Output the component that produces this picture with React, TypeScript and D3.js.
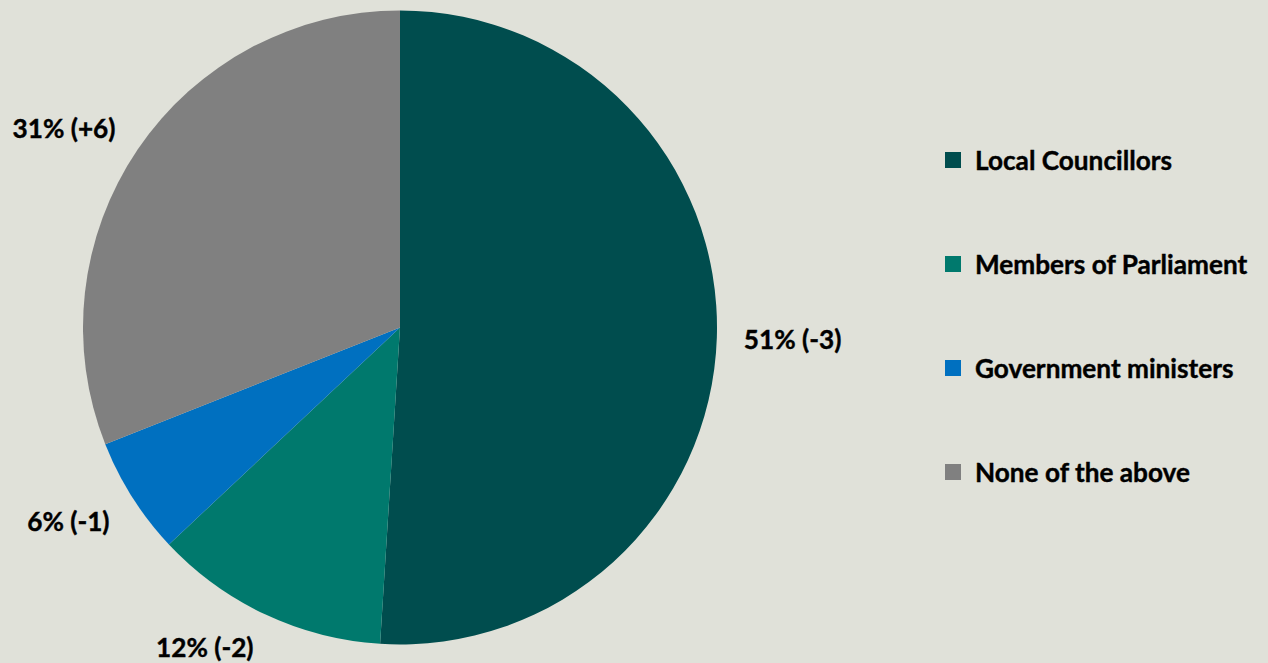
import React, { useEffect, useRef } from "react";
import * as d3 from "d3";

const categories = ["Local Councillors", "Members of Parliament", "Government ministers", "None of the above"];
const values = [51, 12, 6, 31];
const changes = ["-3", "-2", "-1", "+6"];
const colors = ["#004D4E", "#00796D", "#0070C0", "#808080"];

const W = 1268;
const H = 663;
const FONT = "Lato, 'Open Sans', sans-serif";
const FS = 26.2;

export default function App() {
  const ref = useRef<SVGSVGElement | null>(null);

  useEffect(() => {
    const svg = d3.select(ref.current);
    svg.selectAll("*").remove();
    svg.append("rect").attr("width", W).attr("height", H).attr("fill", "#E0E1D9");

    const cx = 400, cy = 327.5, r = 317;
    const g = svg.append("g").attr("transform", `translate(${cx},${cy})`);
    const pie = d3.pie<number>().sort(null).value((d) => d);
    const arcs = pie(values);
    const arc = d3.arc<d3.PieArcDatum<number>>().innerRadius(0).outerRadius(r);

    g.selectAll("path.slice")
      .data(arcs)
      .join("path")
      .attr("class", "slice")
      .attr("d", arc)
      .attr("fill", (_, i) => colors[i]);

    const gap = 27;
    const maxY = H - 16 - cy;
    arcs.forEach((a, i) => {
      const mid = (a.startAngle + a.endAngle) / 2;
      const ux = Math.sin(mid), uy = -Math.cos(mid);
      const t = g.append("text")
        .attr("font-family", FONT)
        .attr("font-weight", 700)
        .attr("font-size", FS)
        .attr("fill", "#000")
        .attr("stroke", "#000")
        .attr("stroke-width", 0.4)
        .attr("text-anchor", "middle")
        .attr("dominant-baseline", "central")
        .text(`${values[i]}% (${changes[i]})`);
      const w = (t.node() as SVGTextElement).getComputedTextLength();
      const h = 18;
      const clamp = (v: number) => Math.max(-1, Math.min(1, v * 3));
      const px = (r + gap) * ux, py = (r + gap) * uy;
      const x = px + clamp(ux) * w / 2;
      const y = Math.min(maxY, py + clamp(uy) * h / 2 + (uy < -0.3 ? 3 : 0));
      t.attr("x", x).attr("y", y);
    });

    const lg = svg.append("g");
    categories.forEach((c, i) => {
      const y = 160 + i * 104;
      lg.append("rect").attr("x", 945).attr("y", y - 8).attr("width", 16).attr("height", 16).attr("fill", colors[i]);
      lg.append("text")
        .attr("x", 975)
        .attr("y", y)
        .attr("dominant-baseline", "central")
        .attr("font-family", FONT)
        .attr("font-weight", 700)
        .attr("font-size", FS)
        .attr("fill", "#000")
        .attr("stroke", "#000")
        .attr("stroke-width", 0.4)
        .text(c);
    });
  }, []);

  return (
    <svg ref={ref} width={W} height={H} style={{ display: "block", position: "absolute", left: 0, top: 0 }} />
  );
}
